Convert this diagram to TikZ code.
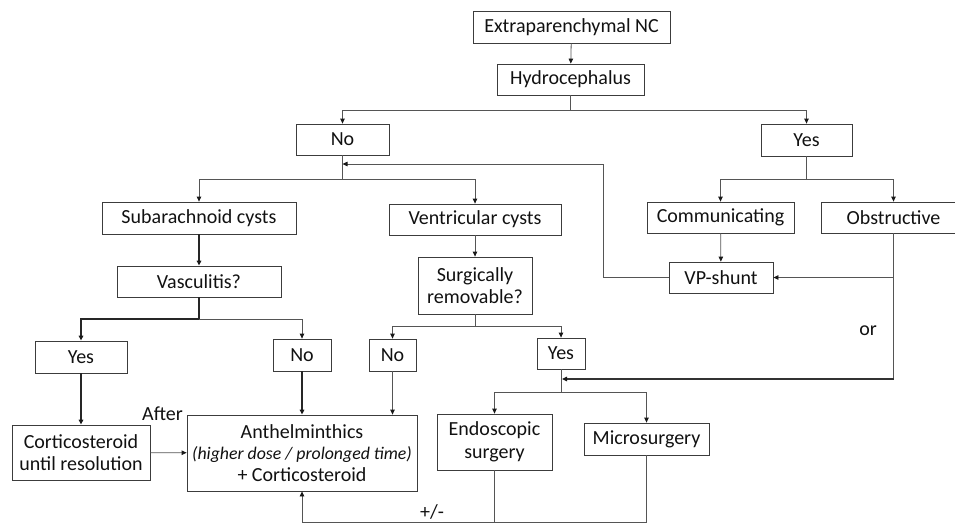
\documentclass[tikz,border=0pt]{standalone}
\usepackage{fontspec}
\setmainfont{Carlito}
\usetikzlibrary{arrows.meta}
\definecolor{linec}{HTML}{555555}
\definecolor{boxc}{HTML}{3C3C3C}
\definecolor{txtc}{HTML}{111111}
\tikzset{
  box/.style={draw=boxc, line width=0.8pt, inner sep=0pt, align=center, text=txtc,
    font=\fontsize{20}{22.5}\selectfont},
  conn/.style={draw=linec, line width=0.8pt},
  thk/.style={draw=black!85, line width=1.5pt},
  arr/.style={-{Triangle[length=5pt,width=4.5pt,color=black!90]}},
  lbl/.style={text=txtc, font=\fontsize{20}{22}\selectfont, inner sep=0pt},
}
\begin{document}
\begin{tikzpicture}[x=1pt,y=-1pt]
\useasboundingbox (0,0) rectangle (955,523);
% boxes
\node[box, minimum width=197pt, minimum height=32pt] (ext) at (571.5,27) {Extraparenchymal NC};
\node[box, minimum width=147pt, minimum height=31pt] (hyd) at (570.5,79.5) {Hydrocephalus};
\node[box, minimum width=93pt, minimum height=31pt] (no1) at (342.5,139.5) {No};
\node[box, minimum width=91pt, minimum height=32pt] (yes1) at (806.5,140) {Yes};
\node[box, minimum width=194pt, minimum height=32pt] (sub) at (199,218) {Subarachnoid cysts};
\node[box, minimum width=172pt, minimum height=31pt] (ven) at (475,219.5) {Ventricular cysts};
\node[box, minimum width=147pt, minimum height=31pt] (com) at (720.5,217.5) {Communicating};
\node[box, minimum width=145pt, minimum height=31pt] (obs) at (893.5,217.5) {Obstructive};
\node[box, minimum width=164pt, minimum height=31pt] (vas) at (199,281.5) {Vasculitis?};
\node[box, minimum width=114pt, minimum height=57pt] (sur) at (475,285.5) {Surgically\\removable?};
\node[box, minimum width=104pt, minimum height=31pt] (vp) at (721,277.5) {VP-shunt};
\node[box, minimum width=92pt, minimum height=32pt] (yesL) at (81,357) {Yes};
\node[box, minimum width=58pt, minimum height=32pt] (noL) at (302,355) {No};
\node[box, minimum width=47pt, minimum height=32pt] (no2) at (392.5,355) {No};
\node[box, minimum width=48pt, minimum height=31pt] (yes2) at (561,353.5) {Yes};
\node[box, minimum width=138pt, minimum height=55pt] (cor) at (81,452.5) {Corticosteroid\\until resolution};
\node[box, minimum width=230pt, minimum height=76pt, font=\fontsize{20}{21.5}\selectfont] (ant) at (302,453) {Anthelminthics\\{\fontsize{17.8}{21.5}\selectfont\itshape (higher dose / prolonged time)}\\+ Corticosteroid};
\node[box, minimum width=115pt, minimum height=56pt] (endo) at (494.5,442) {Endoscopic\\surgery};
\node[box, minimum width=125pt, minimum height=32pt] (mic) at (646.5,439) {Microsurgery};
% junction coordinates
\coordinate (h1) at (570.5,110);
\coordinate (n1) at (342.5,179);
\coordinate (lp) at (342.5,164);
\coordinate (lpa) at (603,277.5);
\coordinate (lpb) at (603,164);
\coordinate (y1) at (806.5,179);
\coordinate (ob1) at (893.5,277.5);
\coordinate (ob2) at (893.5,379);
\coordinate (ys) at (562,379);
\coordinate (v1) at (199,319);
\coordinate (s1) at (475,326);
\coordinate (y2) at (561,392);
\coordinate (b1) at (494.5,522);
\coordinate (b2) at (646.5,522);
\coordinate (b3) at (302,522);
% connectors
\draw[conn,arr] (ext) -- (hyd);
\draw[conn,arr] (hyd.south) -- (h1) -| (no1.north);
\draw[conn,arr] (h1) -| (yes1.north);
\draw[conn,arr] (no1.south) -- (n1) -| (sub.north);
\draw[conn,arr] (n1) -| (ven.north);
\draw[conn,arr] (vp.west) -- (lpa) -- (lpb) -- (lp);
\draw[conn,arr] (yes1.south) -- (y1) -| (com.north);
\draw[conn,arr] (y1) -| (obs.north);
\draw[conn,arr] (com) -- (vp);
\draw[conn] (obs.south) -- (ob2);
\draw[conn,arr] (ob1) -- (vp.east);
\draw[conn,line width=1.1pt,draw=black!80,arr] (ob2) -- (ys);
\draw[thk,arr] (sub) -- (vas);
\draw[conn,arr] (ven) -- (sur);
\draw[thk,arr] (vas.south) -- (v1) -| (yesL.north);
\draw[conn,arr] (v1) -| (noL.north);
\draw[conn,arr] (sur.south) -- (s1) -| (no2.north);
\draw[conn,arr] (s1) -| (yes2.north);
\draw[thk,arr] (yesL) -- (cor);
\draw[thk,arr] (noL) -- (noL |- ant.north);
\draw[conn,arr] (no2) -- (no2 |- ant.north);
\draw[conn,arr] (cor) -- (ant);
\draw[conn] (yes2.south) -- (y2);
\draw[conn,arr] (y2) -| (endo.north);
\draw[conn,arr] (y2) -| (mic.north);
\draw[conn,arr] (endo.south) -- (b1) -- (b3) -- (ant.south);
\draw[conn] (mic.south) -- (b2) -- (b1);
% labels
\node[lbl, anchor=base east] (after) at (183,420) {After};
\node[lbl, anchor=base] (or) at (868,335) {or};
\node[lbl, anchor=base] (pm) at (432,518) {+/-};
\end{tikzpicture}
\end{document}
